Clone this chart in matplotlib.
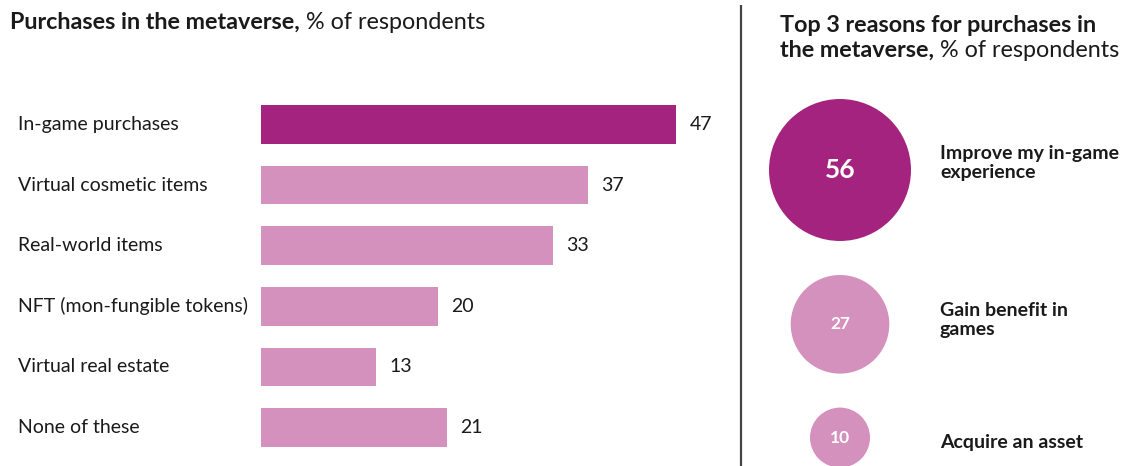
import matplotlib
matplotlib.use("Agg")
import matplotlib.pyplot as plt
import matplotlib.transforms as mtransforms
from matplotlib.patches import Circle
import numpy as np

# ---- data ----
categories = ["In-game purchases", "Virtual cosmetic items", "Real-world items",
              "NFT (mon-fungible tokens)", "Virtual real estate", "None of these"]
values = [47, 37, 33, 20, 13, 21]

reasons = ["Improve my in-game\nexperience", "Gain benefit in\ngames", "Acquire an asset"]
reason_values = [56, 27, 10]

DARK = "#A4237F"
LIGHT = "#D591BD"
TEXT = "#1a1a1a"

plt.rcParams['font.family'] = ['Lato', 'DejaVu Sans']

W, H = 1123, 466
fig = plt.figure(figsize=(W / 100, H / 100), dpi=100)

# ---- left bar chart ----
ax_left, ax_right_px = 261, 703
ax_top, ax_bot = 94, 458
ax = fig.add_axes([ax_left / W, 1 - ax_bot / H, (ax_right_px - ax_left) / W, (ax_bot - ax_top) / H])
y = np.arange(len(categories))
colors = [DARK] + [LIGHT] * (len(categories) - 1)
ax.barh(y, values, height=0.64, color=colors, edgecolor='none')
ax.set_xlim(0, 50)
ax.set_ylim(len(categories) - 0.5, -0.5)
ax.axis('off')

for yi, v in zip(y, values):
    ax.annotate(f"{v}", xy=(v, yi), xytext=(9.5, 0), textcoords='offset points',
                va='center', ha='left', fontsize=14, color=TEXT)

lab_tr = mtransforms.blended_transform_factory(fig.transFigure, ax.transData)
for yi, c in zip(y, categories):
    ax.text(18 / W, yi, c, transform=lab_tr, va='center', ha='left',
            fontsize=14, color=TEXT)

# titles
TS = 16.8
t1 = fig.text(10 / W, 1 - 29 / H, "Purchases in the metaverse,", fontsize=TS,
              fontweight='bold', color=TEXT, va='baseline', ha='left')
plt.annotate(" % of respondents", xy=(1, 0), xycoords=t1, fontsize=TS,
             color=TEXT, va='bottom', ha='left', annotation_clip=False)

t2 = fig.text(780 / W, 1 - 32 / H, "Top 3 reasons for purchases in", fontsize=TS,
              fontweight='bold', color=TEXT, va='baseline', ha='left')
t3 = fig.text(780 / W, 1 - 57 / H, "the metaverse,", fontsize=TS,
              fontweight='bold', color=TEXT, va='baseline', ha='left')
plt.annotate(" % of respondents", xy=(1, 0), xycoords=t3, fontsize=TS,
             color=TEXT, va='bottom', ha='left', annotation_clip=False)

# ---- right bubbles (pixel-unit overlay axes) ----
ov = fig.add_axes([0, 0, 1, 1], zorder=-1)
ov.set_xlim(0, W)
ov.set_ylim(H, 0)
ov.axis('off')

# divider
ov.plot([741, 741], [5, H], color="#444444", lw=1.6, solid_capstyle='butt')

k = 71 / np.sqrt(56)
gap = 34
cx = 840
top = 99
radii = [k * np.sqrt(v) for v in reason_values]
centers = []
cur = top
for r in radii:
    centers.append(cur + r)
    cur += 2 * r + gap

label_shift = [-7, -4, 5]
for i, (v, r, cy, lab) in enumerate(zip(reason_values, radii, centers, reasons)):
    col = DARK if i == 0 else LIGHT
    ov.add_patch(Circle((cx, cy), r, color=col, ec='none'))
    ov.text(cx, cy, f"{v}", color='white', fontweight='bold',
            fontsize=19 if i == 0 else 12.5, ha='center', va='center')
    ov.text(940, cy + label_shift[i], lab, color=TEXT, fontweight='bold', fontsize=14,
            ha='left', va='center', linespacing=1.15)

fig.savefig("out.png", dpi=100)
